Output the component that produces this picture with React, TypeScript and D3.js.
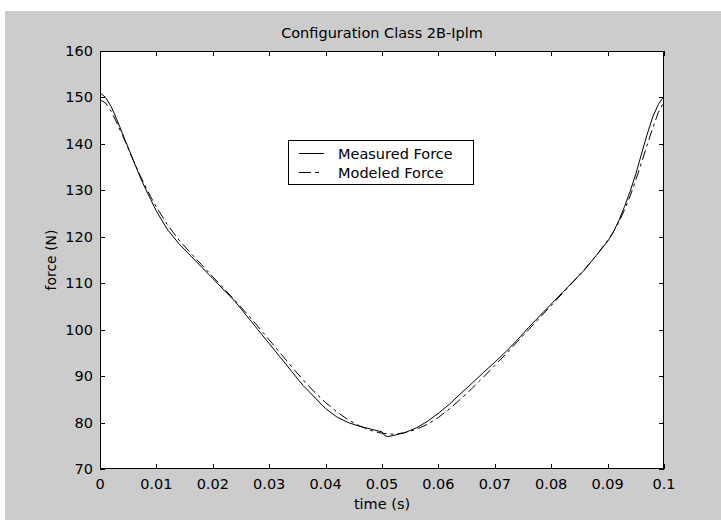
import React from "react";
import * as d3 from "d3";

const title = "Configuration Class 2B-Iplm";
const xLabel = "time (s)";
const yLabel = "force (N)";
const seriesNames = ["Measured Force", "Modeled Force"];

const xTicks = [0, 0.01, 0.02, 0.03, 0.04, 0.05, 0.06, 0.07, 0.08, 0.09, 0.1];
const xTickLabels = ["0", "0.01", "0.02", "0.03", "0.04", "0.05", "0.06", "0.07", "0.08", "0.09", "0.1"];
const yTicks = [70, 80, 90, 100, 110, 120, 130, 140, 150, 160];

const measuredTime = [
  0, 0.001, 0.002, 0.003, 0.004, 0.005, 0.006, 0.007, 0.008, 0.009, 0.01,
  0.012, 0.014, 0.016, 0.018, 0.02, 0.022, 0.024, 0.026, 0.028, 0.03,
  0.032, 0.034, 0.036, 0.038, 0.04, 0.042, 0.044, 0.046, 0.048, 0.049,
  0.05, 0.0505, 0.051, 0.052, 0.054, 0.056, 0.058, 0.06, 0.062, 0.064,
  0.066, 0.068, 0.07, 0.072, 0.074, 0.076, 0.078, 0.08, 0.082, 0.084,
  0.086, 0.088, 0.09, 0.091, 0.092, 0.093, 0.094, 0.095, 0.096, 0.097,
  0.098, 0.099, 0.1,
];
const measuredForce = [
  151, 150, 148, 145.2, 142.2, 139.2, 136.2, 133.2, 130.5, 128, 125.5,
  121.5, 118.5, 116, 113.5, 111, 108.5, 106, 103, 100, 97,
  94, 91, 88, 85.5, 83, 81.2, 80, 79.2, 78.6, 78.3,
  78, 77.2, 77, 77.2, 77.8, 78.8, 80.2, 82, 84, 86.3,
  88.5, 90.8, 93, 95.3, 97.8, 100.5, 103, 105.5, 108, 110.5,
  113, 116, 119, 121, 123.5, 126.5, 129.8, 133.5, 137.8, 142,
  145.8, 148.5, 150.3,
];

const modeledTime = [
  0, 0.001, 0.002, 0.003, 0.004, 0.005, 0.006, 0.007, 0.008, 0.009, 0.01,
  0.012, 0.014, 0.016, 0.018, 0.02, 0.022, 0.024, 0.026, 0.028, 0.03,
  0.032, 0.034, 0.036, 0.038, 0.04, 0.042, 0.044, 0.046, 0.048, 0.05,
  0.052, 0.054, 0.056, 0.058, 0.06, 0.062, 0.064, 0.066, 0.068, 0.07,
  0.072, 0.074, 0.076, 0.078, 0.08, 0.082, 0.084, 0.086, 0.088, 0.09,
  0.091, 0.092, 0.093, 0.094, 0.095, 0.096, 0.097, 0.098, 0.099, 0.1,
];
const modeledForce = [
  149.5, 148.8, 147, 144.5, 141.8, 139, 136.2, 133.5, 131, 128.6, 126.4,
  122.5, 119.3, 116.6, 114, 111.4, 108.8, 106.2, 103.5, 100.7, 97.8,
  94.9, 92, 89.2, 86.6, 84.3, 82.3, 80.6, 79.3, 78.3, 77.7,
  77.5, 77.8, 78.5, 79.6, 81.1, 83, 85.1, 87.4, 89.8, 92.3,
  94.8, 97.4, 100, 102.6, 105.2, 107.8, 110.4, 113.1, 116, 119.2,
  121, 123.2, 125.8, 128.8, 132.2, 135.9, 139.7, 143.4, 146.8, 149,
];

const W = 721;
const H = 520;
const plot = { left: 100, right: 664, top: 51, bottom: 469 };
const FONT = "'DejaVu Sans', sans-serif";

export default function App() {
  const x = d3.scaleLinear().domain([0, 0.1]).range([plot.left, plot.right]);
  const y = d3.scaleLinear().domain([70, 160]).range([plot.bottom, plot.top]);

  const line = d3
    .line<[number, number]>()
    .x((d) => x(d[0]))
    .y((d) => y(d[1]));

  const measured = measuredTime.map((t, i) => [t, measuredForce[i]] as [number, number]);
  const modeled = modeledTime.map((t, i) => [t, modeledForce[i]] as [number, number]);

  const tickLen = 5;
  const dash = "10 4 3 4";

  const legend = { x: 288, y: 140, w: 185, h: 44 };

  return (
    <div style={{ position: "fixed", left: 0, top: 0 }}>
      <svg width={W} height={H} style={{ display: "block" }}>
        <rect x={0} y={0} width={W} height={H} fill="#ffffff" />
        <rect x={5} y={11} width={W - 5} height={H - 11} fill="#cccccc" />
        <rect
          x={plot.left}
          y={plot.top}
          width={plot.right - plot.left}
          height={plot.bottom - plot.top}
          fill="#ffffff"
        />
        <g clipPath="url(#clip)">
          <path d={line(modeled) || ""} fill="none" stroke="#000" strokeWidth={1} strokeDasharray={dash} />
          <path d={line(measured) || ""} fill="none" stroke="#000" strokeWidth={1} />
        </g>
        <defs>
          <clipPath id="clip">
            <rect x={plot.left} y={plot.top - 2} width={plot.right - plot.left} height={plot.bottom - plot.top + 2} />
          </clipPath>
        </defs>
        <rect
          x={plot.left + 0.5}
          y={plot.top + 0.5}
          width={plot.right - plot.left - 1}
          height={plot.bottom - plot.top - 1}
          fill="none"
          stroke="#000"
          strokeWidth={1}
        />
        {xTicks.map((t, i) => {
          const px = Math.round(x(t)) + 0.5;
          return (
            <g key={"xt" + i}>
              <line x1={px} x2={px} y1={plot.bottom} y2={plot.bottom - tickLen} stroke="#000" />
              <line x1={px} x2={px} y1={plot.top} y2={plot.top + tickLen} stroke="#000" />
              <text
                x={x(t)}
                y={489}
                textAnchor="middle"
                fontFamily={FONT}
                fontSize={14.5}
                fill="#000"
              >
                {xTickLabels[i]}
              </text>
            </g>
          );
        })}
        {yTicks.map((v, i) => {
          const py = Math.round(y(v)) + 0.5;
          return (
            <g key={"yt" + i}>
              <line x1={plot.left} x2={plot.left + tickLen} y1={py} y2={py} stroke="#000" />
              <line x1={plot.right} x2={plot.right - tickLen} y1={py} y2={py} stroke="#000" />
              <text
                x={93}
                y={y(v) + 5}
                textAnchor="end"
                fontFamily={FONT}
                fontSize={14.5}
                fill="#000"
              >
                {v}
              </text>
            </g>
          );
        })}
        <text x={(plot.left + plot.right) / 2} y={38} textAnchor="middle" fontFamily={FONT} fontSize={14.5} fill="#000">
          {title}
        </text>
        <text x={(plot.left + plot.right) / 2} y={509} textAnchor="middle" fontFamily={FONT} fontSize={14.5} fill="#000">
          {xLabel}
        </text>
        <text
          transform={`translate(56, ${(plot.top + plot.bottom) / 2}) rotate(-90)`}
          textAnchor="middle"
          fontFamily={FONT}
          fontSize={14}
          fill="#000"
        >
          {yLabel}
        </text>
        <rect
          x={legend.x + 0.5}
          y={legend.y + 0.5}
          width={legend.w}
          height={legend.h}
          fill="#ffffff"
          stroke="#000"
          strokeWidth={1}
        />
        <line x1={299} x2={324} y1={153.5} y2={153.5} stroke="#000" />
        <line x1={299} x2={324} y1={172.5} y2={172.5} stroke="#000" strokeDasharray="12 4 4 5" />
        <text x={338} y={158.5} fontFamily={FONT} fontSize={14.5} fill="#000">
          {seriesNames[0]}
        </text>
        <text x={338} y={177.5} fontFamily={FONT} fontSize={14.5} fill="#000">
          {seriesNames[1]}
        </text>
      </svg>
    </div>
  );
}
